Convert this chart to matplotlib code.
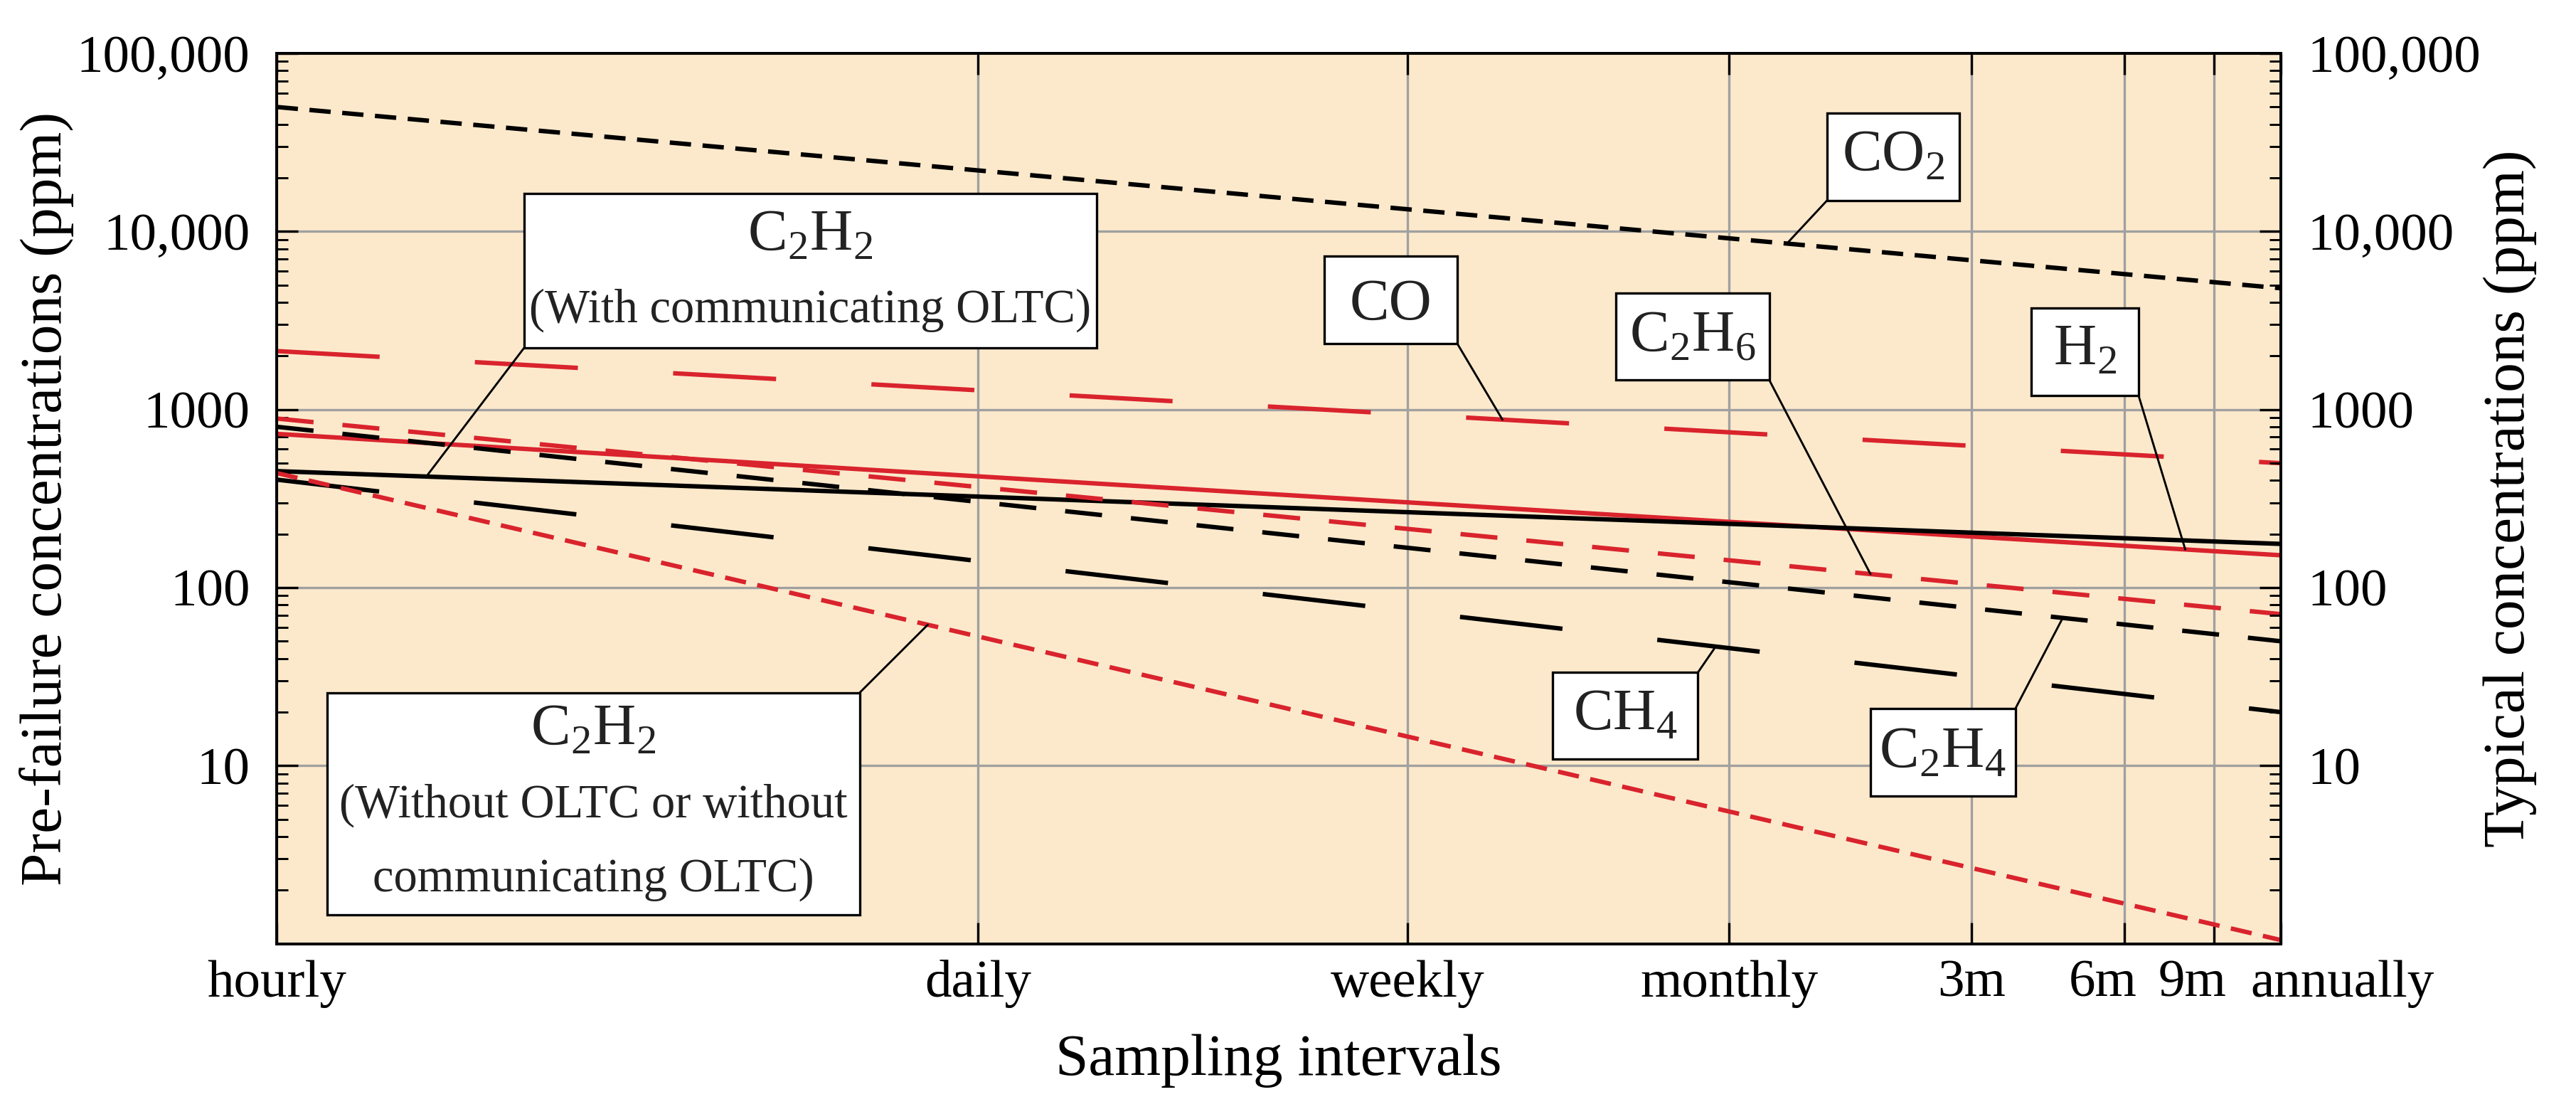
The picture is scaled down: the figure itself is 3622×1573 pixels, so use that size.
import numpy as np
import matplotlib
matplotlib.use("Agg")
import matplotlib.pyplot as plt
from matplotlib.patches import Rectangle
from matplotlib.transforms import ScaledTranslation
from matplotlib.ticker import LogLocator, NullLocator, NullFormatter, FixedLocator

plt.rcParams['font.family'] = ['Liberation Serif', 'DejaVu Serif']
plt.rcParams['mathtext.fontset'] = 'custom'
plt.rcParams['mathtext.rm'] = 'Liberation Serif'
plt.rcParams['lines.scale_dashes'] = False

# ---------------------------------------------------------------
# x axis: sampling interval, in hours
tick_hours = [1, 24, 168, 720, 2160, 4320, 6480, 8760]
tick_names = ["hourly", "daily", "weekly", "monthly", "3m", "6m", "9m", "annually"]

# concentrations (ppm) read at hourly and at annually
x_ends = [1, 8760]
co2 = [50000, 4800]
co = [2130, 500]
h2 = [730, 152]
c2h2_with = [451, 176]
c2h6 = [890, 71]
c2h4 = [800, 50]
ch4 = [404, 20]
c2h2_without = [440, 1.05]

ytick_vals = [10, 100, 1000, 10000, 100000]
ytick_names = ["10", "100", "1000", "10,000", "100,000"]

RED = "#D9232D"
SHORT = (0, (7.2, 3.9))
MEDIUM = (0, (12.5, 9.8))
LONG = (0, (34.8, 32.2))

# ---------------------------------------------------------------
fig = plt.figure(figsize=(3622 / 300, 1573 / 300), dpi=300)
ax = fig.add_axes([0.1074, 0.1566, 0.7779, 0.7957])
ax.set_facecolor("#FCE9CB")
ax.set_xscale("log")
ax.set_yscale("log")
ax.set_xlim(1, 8760)
ax.set_ylim(1, 100000)

lw = 1.5
ax.plot(x_ends, co2, color="black", lw=lw, linestyle=SHORT, zorder=2)
ax.plot(x_ends, co, color=RED, lw=lw, linestyle=LONG, zorder=2)
ax.plot(x_ends, h2, color=RED, lw=lw, linestyle="-", zorder=2)
ax.plot(x_ends, c2h2_with, color="black", lw=lw, linestyle="-", zorder=2)
ax.plot(x_ends, c2h6, color=RED, lw=lw, linestyle=MEDIUM, zorder=2)
ax.plot(x_ends, c2h4, color="black", lw=lw, linestyle=MEDIUM, zorder=2)
ax.plot(x_ends, ch4, color="black", lw=lw, linestyle=LONG, zorder=2)
ax.plot(x_ends, c2h2_without, color=RED, lw=lw, linestyle=SHORT, zorder=2)

# ---------------------------------------------------------------
# axes, ticks, grid
ax.grid(True, which="major", color="#A0A0A0", lw=0.8)
ax.set_axisbelow(True)
for s in ax.spines.values():
    s.set_linewidth(0.9)

ax.xaxis.set_major_locator(FixedLocator(tick_hours))
ax.set_xticklabels(tick_names)
ax.xaxis.set_minor_locator(NullLocator())
ax.yaxis.set_major_locator(FixedLocator(ytick_vals))
ax.set_yticklabels(ytick_names)
ax.yaxis.set_minor_locator(LogLocator(base=10, subs=np.arange(2, 10), numticks=20))
ax.yaxis.set_minor_formatter(NullFormatter())

ax.tick_params(axis="both", which="major", direction="in", length=7.2, width=0.8,
               labelsize=18, pad=9)
ax.tick_params(axis="x", which="major", top=True, pad=5.4)
ax.tick_params(axis="y", which="minor", direction="in", length=3.8, width=0.7)

shift = {"6m": -7.4, "9m": -7.4, "annually": 20.9}
for lab, name in zip(ax.get_xticklabels(), tick_names):
    if name in shift:
        lab.set_transform(lab.get_transform() +
                          ScaledTranslation(shift[name] / 72, 0, fig.dpi_scale_trans))

ax2 = ax.twinx()
ax2.set_yscale("log")
ax2.set_ylim(1, 100000)
ax2.yaxis.set_major_locator(FixedLocator(ytick_vals))
ax2.set_yticklabels(ytick_names)
ax2.yaxis.set_minor_locator(LogLocator(base=10, subs=np.arange(2, 10), numticks=20))
ax2.yaxis.set_minor_formatter(NullFormatter())
ax2.tick_params(axis="y", which="major", direction="in", length=7.2, width=0.8,
                labelsize=18, pad=9)
ax2.tick_params(axis="y", which="minor", direction="in", length=3.8, width=0.7)
for s in ax2.spines.values():
    s.set_linewidth(0.9)

ax.set_xlabel("Sampling intervals", fontsize=20)
ax.xaxis.set_label_coords(0.5, -0.101)
ax.set_ylabel("Pre-failure concentrations (ppm)", fontsize=20)
ax.yaxis.set_label_coords(-0.101, 0.5)
ax2.set_ylabel("Typical concentrations (ppm)", fontsize=20)
ax2.yaxis.set_label_coords(1.101, 0.5)

# ---------------------------------------------------------------
# labelled boxes with leader lines
def on_line(vals, h):
    lv = np.interp(np.log10(h), np.log10(x_ends), np.log10(vals))
    return 10 ** lv

def label_box(x0, x1, y0, y1, corner, series, hour, lines):
    ax.add_patch(Rectangle((x0, y0), x1 - x0, y1 - y0, transform=ax.transAxes,
                           facecolor="white", edgecolor="black", lw=0.8, zorder=5))
    ax.annotate("", xy=(hour, on_line(series, hour)), xycoords="data",
                xytext=corner, textcoords="axes fraction",
                arrowprops=dict(arrowstyle="-", lw=0.7, color="black",
                                shrinkA=0, shrinkB=0), zorder=4)
    xc = (x0 + x1) / 2
    for txt, size, yb in lines:
        ax.text(xc, yb, txt, transform=ax.transAxes, ha="center", va="baseline",
                fontsize=size, color="#222222", zorder=6)

sub = lambda s: r"$_\mathregular{" + s + "}$"
C2H2 = "C" + sub("2") + "H" + sub("2")

label_box(0.1236, 0.4091, 0.6696, 0.8424, (0.1236, 0.6696), c2h2_with, 1.97,
          [(C2H2, 20, 0.7795), ("(With communicating OLTC)", 16, 0.698)])
label_box(0.0253, 0.2909, 0.0322, 0.2819, (0.2909, 0.2819), c2h2_without, 19.1,
          [(C2H2, 20, 0.2243), ("(Without OLTC or without", 16, 0.142),
           ("communicating OLTC)", 16, 0.0596)])
label_box(0.5229, 0.5891, 0.6743, 0.7722, (0.5891, 0.6743), co, 258,
          [("CO", 20, 0.7012)])
label_box(0.6683, 0.7449, 0.6330, 0.7309, (0.7449, 0.6330), c2h6, 1367,
          [("C" + sub("2") + "H" + sub("6"), 20, 0.6658)])
label_box(0.7737, 0.8399, 0.8348, 0.9327, (0.7737, 0.8348), co2, 936,
          [("CO" + sub("2"), 20, 0.8685)])
label_box(0.8757, 0.9291, 0.6161, 0.7138, (0.9291, 0.6161), h2, 5690,
          [("H" + sub("2"), 20, 0.6507)])
label_box(0.6368, 0.7093, 0.2072, 0.3049, (0.7093, 0.3049), ch4, 678,
          [("CH" + sub("4"), 20, 0.241)])
label_box(0.7954, 0.8677, 0.1661, 0.2642, (0.8677, 0.2642), c2h4, 3266,
          [("C" + sub("2") + "H" + sub("4"), 20, 0.1984)])

fig.savefig("out.png", dpi=300)
